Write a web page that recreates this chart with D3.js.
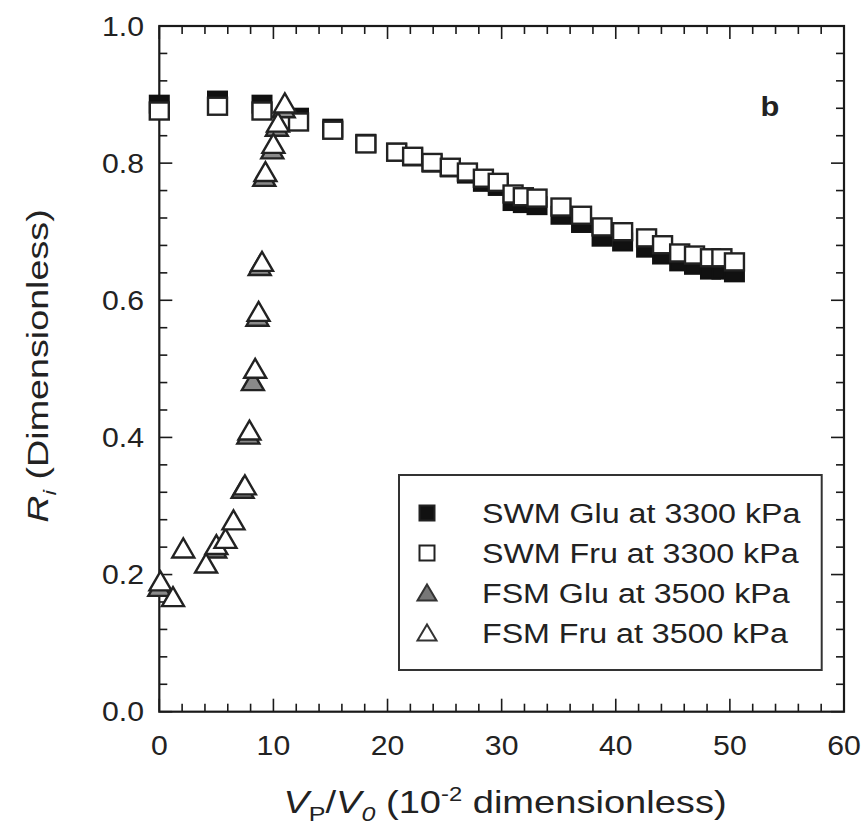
<!DOCTYPE html>
<html>
<head>
<meta charset="utf-8">
<script src="https://cdn.jsdelivr.net/npm/d3@7"></script>
<style>
  body { margin: 0; background: #fff; }
  text { font-family: "Liberation Sans", Arial, sans-serif; fill: #222; }
</style>
</head>
<body>
<div id="chart"></div>
<script>
// SWM series share x positions
const swmX = [0, 5.1, 9.0, 12.2, 15.2, 18.1, 20.8, 22.2, 23.9, 25.5, 27.0, 28.4, 29.7, 31.0, 31.9, 33.1, 35.2, 37.0, 38.8, 40.6, 42.7, 44.1, 45.6, 46.9, 48.3, 49.3, 50.4];
const swmGlu = [0.886, 0.892, 0.886, 0.867, 0.851, 0.829, 0.816, 0.809, 0.800, 0.793, 0.784, 0.772, 0.766, 0.744, 0.741, 0.738, 0.724, 0.712, 0.692, 0.685, 0.676, 0.666, 0.656, 0.651, 0.644, 0.644, 0.640];
const swmFru = [0.876, 0.883, 0.876, 0.860, 0.848, 0.828, 0.816, 0.810, 0.801, 0.794, 0.787, 0.778, 0.772, 0.755, 0.751, 0.749, 0.736, 0.724, 0.707, 0.700, 0.691, 0.681, 0.669, 0.666, 0.662, 0.662, 0.656];

const fsmGluX = [0.0, 4.9, 7.3, 7.8, 8.2, 8.6, 8.8, 9.2, 9.9, 10.3, 10.9];
const fsmGlu = [0.180, 0.236, 0.323, 0.402, 0.480, 0.574, 0.648, 0.778, 0.818, 0.851, 0.878];
const fsmFruX = [0.1, 1.2, 2.1, 4.1, 5.0, 5.8, 6.5, 7.5, 7.9, 8.4, 8.7, 9.0, 9.3, 10.0, 10.4, 11.0];
const fsmFru = [0.188, 0.165, 0.236, 0.214, 0.241, 0.250, 0.277, 0.328, 0.408, 0.498, 0.581, 0.654, 0.785, 0.826, 0.857, 0.885];

const xTicks = [0, 10, 20, 30, 40, 50, 60];
const yTicks = [0.0, 0.2, 0.4, 0.6, 0.8, 1.0];
const legendLabels = ["SWM Glu at 3300 kPa", "SWM Fru at 3300 kPa", "FSM Glu at 3500 kPa", "FSM Fru at 3500 kPa"];

const W = 867, H = 840;
const plotL = 159.3, plotR = 844, plotT = 26, plotB = 711.7;

const svg = d3.select("#chart").append("svg")
  .attr("width", W)
  .attr("height", H);

const x = d3.scaleLinear().domain([0, 60]).range([plotL, plotR]);
const y = d3.scaleLinear().domain([0, 1]).range([plotB, plotT]);

const ink = "#1a1a1a";

// stretched text helper (the figure is a bit wider than tall)
function label(g, px, py, str, size, anchor, sx) {
  return g.append("text")
    .attr("transform", `translate(${px},${py}) scale(${sx},1)`)
    .attr("text-anchor", anchor)
    .style("font-size", size + "px")
    .text(str);
}

// ticks on all four sides, pointing inward
const minorX = d3.range(0, 61, 2);
const minorY = d3.range(0, 1.001, 0.04);
const tickG = svg.append("g").attr("stroke", ink).attr("stroke-width", 1.6);

minorX.forEach(v => {
  const major = v % 10 === 0;
  const len = major ? 13 : 8;
  tickG.append("line").attr("x1", x(v)).attr("x2", x(v)).attr("y1", plotB).attr("y2", plotB - len);
  tickG.append("line").attr("x1", x(v)).attr("x2", x(v)).attr("y1", plotT).attr("y2", plotT + len);
});
minorY.forEach(v => {
  const major = Math.abs(v * 5 - Math.round(v * 5)) < 1e-6;
  const len = major ? 13 : 8;
  tickG.append("line").attr("y1", y(v)).attr("y2", y(v)).attr("x1", plotL).attr("x2", plotL + len);
  tickG.append("line").attr("y1", y(v)).attr("y2", y(v)).attr("x1", plotR).attr("x2", plotR - len);
});

svg.append("rect")
  .attr("x", plotL).attr("y", plotT)
  .attr("width", plotR - plotL).attr("height", plotB - plotT)
  .attr("fill", "none").attr("stroke", ink).attr("stroke-width", 2.2);

// tick labels
const labG = svg.append("g");
xTicks.forEach(v => label(labG, x(v), 755, String(v), 27, "middle", 1.12));
yTicks.forEach(v => label(labG, 144, y(v) + 9.5, v.toFixed(1), 27, "end", 1.12));

// axis titles
const xt = svg.append("text")
  .attr("transform", "translate(505,813) scale(1.19,1)")
  .attr("text-anchor", "middle")
  .style("font-size", "32px");
xt.append("tspan").style("font-style", "italic").text("V");
xt.append("tspan").attr("dy", 8).style("font-size", "21px").text("P");
xt.append("tspan").attr("dy", -8).text("/");
xt.append("tspan").style("font-style", "italic").text("V");
xt.append("tspan").attr("dy", 8).style("font-size", "21px").style("font-style", "italic").text("0");
xt.append("tspan").attr("dy", -8).text(" (10");
xt.append("tspan").attr("dy", -12).style("font-size", "20px").text("-2");
xt.append("tspan").attr("dy", 12).text(" dimensionless)");

// y title is narrow and tall in the original
const yt = svg.append("text")
  .attr("transform", "translate(48,366) rotate(-90) scale(1.3,1)")
  .attr("text-anchor", "middle")
  .style("font-size", "29px");
yt.append("tspan").style("font-style", "italic").text("R");
yt.append("tspan").attr("dy", 8).style("font-size", "19px").style("font-style", "italic").text("i");
yt.append("tspan").attr("dy", -8).text(" (Dimensionless)");

// panel letter
svg.append("text")
  .attr("transform", "translate(770,116) scale(1.1,1)")
  .attr("text-anchor", "middle")
  .style("font-size", "28px").style("font-weight", "bold")
  .text("b");

// markers
const sqW = 19, sqH = 17;
function tri(w, h) {
  return `M0,${-h * 0.6}L${w / 2},${h * 0.4}L${-w / 2},${h * 0.4}Z`;
}
const triW = 22, triH = 19;

const marks = svg.append("g");

marks.selectAll("rect.glu")
  .data(swmX.map((v, i) => [v, swmGlu[i]]))
  .join("rect")
  .attr("class", "glu")
  .attr("x", d => x(d[0]) - sqW / 2)
  .attr("y", d => y(d[1]) - sqH / 2)
  .attr("width", sqW).attr("height", sqH)
  .attr("fill", "#111").attr("stroke", "#111").attr("stroke-width", 2);

marks.selectAll("rect.fru")
  .data(swmX.map((v, i) => [v, swmFru[i]]))
  .join("rect")
  .attr("class", "fru")
  .attr("x", d => x(d[0]) - sqW / 2)
  .attr("y", d => y(d[1]) - sqH / 2)
  .attr("width", sqW).attr("height", sqH)
  .attr("fill", "#fff").attr("stroke", "#222").attr("stroke-width", 2.4);

marks.selectAll("path.fglu")
  .data(fsmGluX.map((v, i) => [v, fsmGlu[i]]))
  .join("path")
  .attr("class", "fglu")
  .attr("d", tri(triW, triH))
  .attr("transform", d => `translate(${x(d[0])},${y(d[1])})`)
  .attr("fill", "#8a8a8a").attr("stroke", "#222").attr("stroke-width", 2.4);

marks.selectAll("path.ffru")
  .data(fsmFruX.map((v, i) => [v, fsmFru[i]]))
  .join("path")
  .attr("class", "ffru")
  .attr("d", tri(triW, triH))
  .attr("transform", d => `translate(${x(d[0])},${y(d[1])})`)
  .attr("fill", "#fff").attr("stroke", "#222").attr("stroke-width", 2.4);

// legend
const lg = svg.append("g");
lg.append("rect")
  .attr("x", 399).attr("y", 475).attr("width", 422.7).attr("height", 195)
  .attr("fill", "#fff").attr("stroke", "#333").attr("stroke-width", 2);

const rowY = d3.scalePoint().domain(legendLabels).range([513, 633]);
const symX = 427, ls = 15;
legendLabels.forEach((t, i) => {
  const cy = rowY(t);
  if (i < 2) {
    lg.append("rect")
      .attr("x", symX - ls / 2).attr("y", cy - ls / 2)
      .attr("width", ls).attr("height", ls)
      .attr("fill", i === 0 ? "#111" : "#fff")
      .attr("stroke", "#222").attr("stroke-width", 2);
  } else {
    lg.append("path")
      .attr("d", tri(19, 16))
      .attr("transform", `translate(${symX},${cy + 1})`)
      .attr("fill", i === 2 ? "#777" : "#fff")
      .attr("stroke", "#333").attr("stroke-width", 2);
  }
  label(lg, 482, cy + 10, t, 28, "start", 1.15);
});
</script>
</body>
</html>
